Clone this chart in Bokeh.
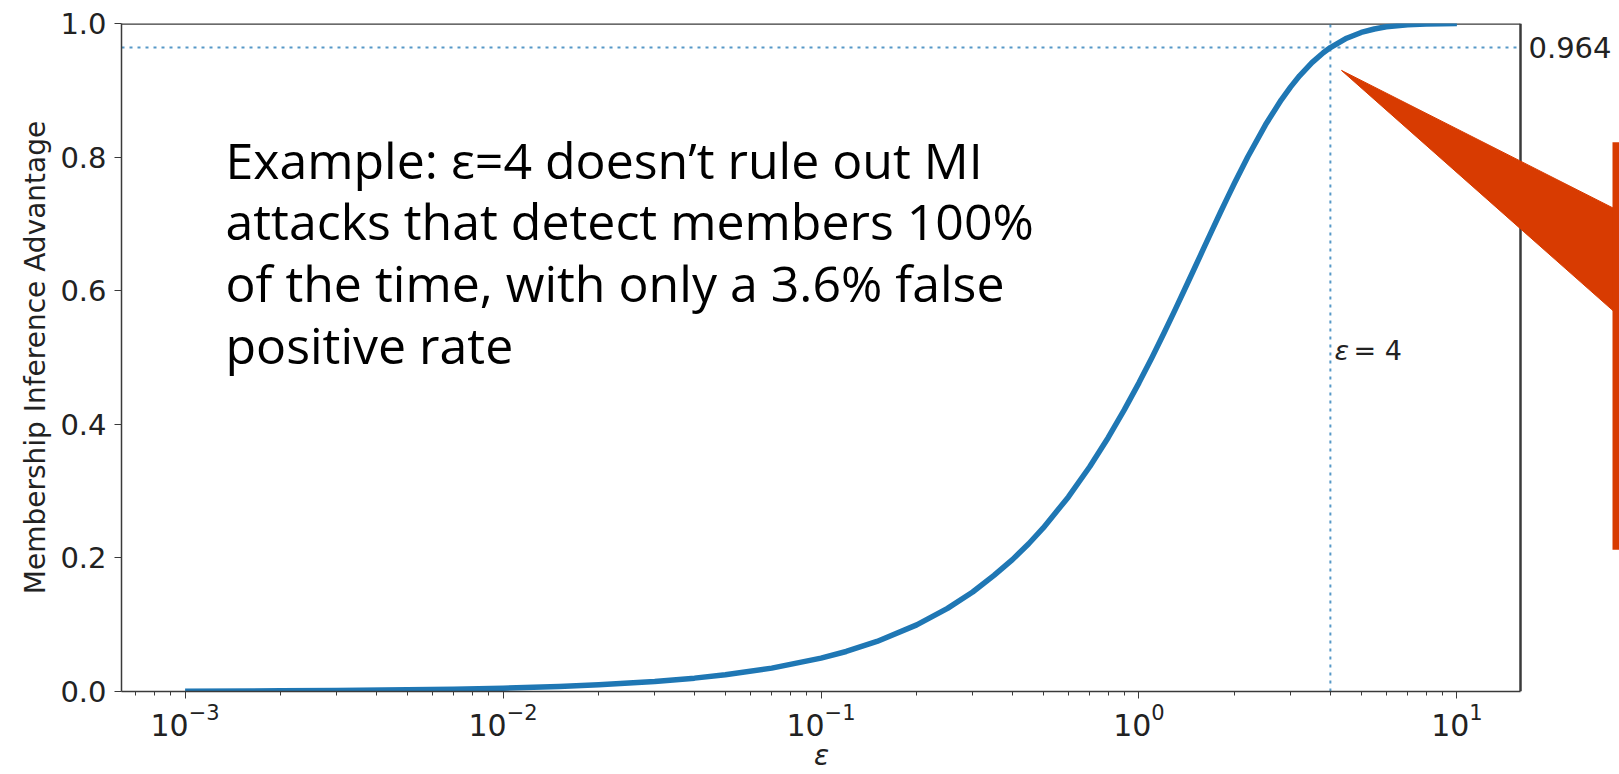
import math
from bokeh.plotting import figure
from bokeh.models import Range1d, FixedTicker, NumeralTickFormatter, LogTickFormatter, Label
from bokeh.core.properties import value
from bokeh.embed import file_html
from bokeh.resources import INLINE

# ---- data ----
eps = [0.001, 0.002, 0.003, 0.005, 0.007, 0.01, 0.015, 0.02, 0.03, 0.04,
       0.05, 0.07, 0.1, 0.12, 0.15, 0.2, 0.25, 0.3, 0.35, 0.4,
       0.45, 0.5, 0.6, 0.7, 0.8, 0.9, 1.0, 1.1, 1.2, 1.3,
       1.4, 1.5, 1.6, 1.7, 1.8, 1.9, 2.0, 2.2, 2.5, 2.8,
       3.0, 3.2, 3.5, 3.8, 4.0, 4.5, 5.0, 5.5, 6.0, 7.0,
       8.0, 9.0, 10.0]
advantage = [0.0005, 0.0010, 0.0015, 0.0025, 0.0035, 0.0050, 0.0075, 0.0100, 0.0150, 0.0200,
             0.0250, 0.0350, 0.0500, 0.0599, 0.0749, 0.0997, 0.1244, 0.1489, 0.1739, 0.1974,
             0.2212, 0.2449, 0.2913, 0.3364, 0.3799, 0.4219, 0.4621, 0.5005, 0.5370, 0.5717,
             0.6044, 0.6351, 0.6640, 0.6911, 0.7163, 0.7398, 0.7616, 0.8005, 0.8483, 0.8854,
             0.9051, 0.9217, 0.9414, 0.9562, 0.9640, 0.9780, 0.9866, 0.9918, 0.9951, 0.9982,
             0.9993, 0.9998, 0.9999]
x_major_ticks = [0.001, 0.01, 0.1, 1.0, 10.0]
y_ticks = [0.0, 0.2, 0.4, 0.6, 0.8, 1.0]
x_title = "\u03b5"
y_title = "Membership Inference Advantage"
marked_eps = 4.0
marked_adv = 0.964
marked_eps_label = "= 4"
annotation_lines = [
    "Example: \u03b5=4 doesn\u2019t rule out MI",
    "attacks that detect members 100%",
    "of the time, with only a 3.6% false",
    "positive rate",
]

# ---- layout (pixels) ----
W, H = 1619, 774
FL, FR, FT, FB = 121, 1520, 23, 692
LOG_MIN, LOG_MAX = -3.2, 1.2
PPD = (FR - FL) / (LOG_MAX - LOG_MIN)
X_END = 10 ** (LOG_MAX + (W - FR) / PPD)


def px_x(px):
    return 10 ** (LOG_MIN + (px - FL) / PPD)


def px_y(py):
    return (FB - py) / (FB - FT)


p = figure(width=W, height=H, x_axis_type="log",
           x_range=Range1d(10 ** LOG_MIN, X_END), y_range=Range1d(0, 1),
           output_backend="svg", toolbar_location=None,
           min_border_left=FL, min_border_right=0, min_border_top=FT,
           min_border_bottom=H - FB)
p.outline_line_color = None
p.grid.visible = False
p.background_fill_color = "white"
p.border_fill_color = "white"

AX_COL = "#3a3a3a"
TXT_COL = "#222222"
FONT = "DejaVu Sans"
FS = "29px"

# x axis
xa = p.xaxis[0]
xa.bounds = (10 ** LOG_MIN, 10 ** LOG_MAX)
minor = []
for d in range(-4, 2):
    for m in range(2, 10):
        v = m * 10 ** d
        if 10 ** LOG_MIN <= v <= 10 ** LOG_MAX:
            minor.append(v)
xa.ticker = FixedTicker(ticks=x_major_ticks, minor_ticks=minor)
xa.formatter = LogTickFormatter()
# the title is centred on the extended frame; trailing no-break spaces move it
# back to the centre of the visible axes box
xa.axis_label = x_title + "\u00a0" * 11
xa.axis_label_text_font_style = "italic"
xa.axis_label_text_font = FONT
xa.axis_label_text_font_size = "28px"
xa.axis_label_text_color = TXT_COL
xa.axis_label_standoff = 0
xa.major_label_text_font = FONT
xa.major_label_text_font_size = "30px"
xa.major_label_text_color = TXT_COL
xa.major_label_standoff = 4
xa.axis_line_color = AX_COL
xa.axis_line_width = 1.5
xa.major_tick_line_color = AX_COL
xa.minor_tick_line_color = AX_COL
xa.major_tick_in = 0
xa.major_tick_out = 7
xa.minor_tick_in = 0
xa.minor_tick_out = 4

# y axis
ya = p.yaxis[0]
ya.ticker = FixedTicker(ticks=y_ticks)
ya.formatter = NumeralTickFormatter(format="0.0")
ya.axis_label = y_title
ya.axis_label_text_font_style = "normal"
ya.axis_label_text_font = FONT
ya.axis_label_text_font_size = "28px"
ya.axis_label_text_color = TXT_COL
ya.axis_label_standoff = 5
ya.major_label_text_font = FONT
ya.major_label_text_font_size = FS
ya.major_label_text_color = TXT_COL
ya.major_label_standoff = 8
ya.axis_line_color = AX_COL
ya.axis_line_width = 1.5
ya.major_tick_line_color = AX_COL
ya.major_tick_in = 0
ya.major_tick_out = 7
ya.minor_tick_line_color = None

# frame top and right edges
p.segment(x0=[10 ** LOG_MIN, 10 ** LOG_MAX], y0=[1, 0], x1=[10 ** LOG_MAX, 10 ** LOG_MAX],
          y1=[1, 1], line_color=AX_COL, line_width=2.5)

# reference dotted lines
p.segment(x0=[10 ** LOG_MIN], y0=[marked_adv], x1=[10 ** LOG_MAX], y1=[marked_adv],
          line_color="#1f77b4", line_alpha=0.75, line_width=2, line_dash="3 5")
p.segment(x0=[marked_eps], y0=[0], x1=[marked_eps], y1=[1],
          line_color="#1f77b4", line_alpha=0.75, line_width=2, line_dash="3 5")

# main curve
p.line(eps, advantage, line_color="#1f77b4", line_width=5.5, line_join="round")

# labels
p.add_layout(Label(x=px_x(1528), y=marked_adv, text=f"{marked_adv}",
                   text_font=FONT, text_font_size=FS, text_color=TXT_COL,
                   text_baseline="middle", text_align="left"))
p.add_layout(Label(x=px_x(1334), y=px_y(350), text="\u03b5",
                   text_font=FONT, text_font_style="italic", text_font_size="27px",
                   text_color=TXT_COL, text_baseline="middle", text_align="left"))
p.add_layout(Label(x=px_x(1353), y=px_y(350), text=marked_eps_label,
                   text_font=FONT, text_font_size="27px",
                   text_color=TXT_COL, text_baseline="middle", text_align="left"))

# annotation text
baselines = [160, 221, 283, 345]
p.text(x=[px_x(225)] * len(annotation_lines), y=[px_y(b) for b in baselines],
       text=annotation_lines, text_font=value("Open Sans"), text_font_size="50px",
       text_color="black", text_baseline="alphabetic", text_align="left")

# red callout
RED = "#D83B01"
p.patch(x=[px_x(1341), px_x(1613), px_x(1613)], y=[px_y(70), px_y(208), px_y(311)],
        fill_color=RED, line_color=RED, line_width=1)
p.quad(left=[px_x(1612)], right=[px_x(1630)], top=[px_y(142)], bottom=[px_y(550)],
       fill_color=RED, line_color=None)

open("out.html", "w").write(file_html(p, INLINE))
